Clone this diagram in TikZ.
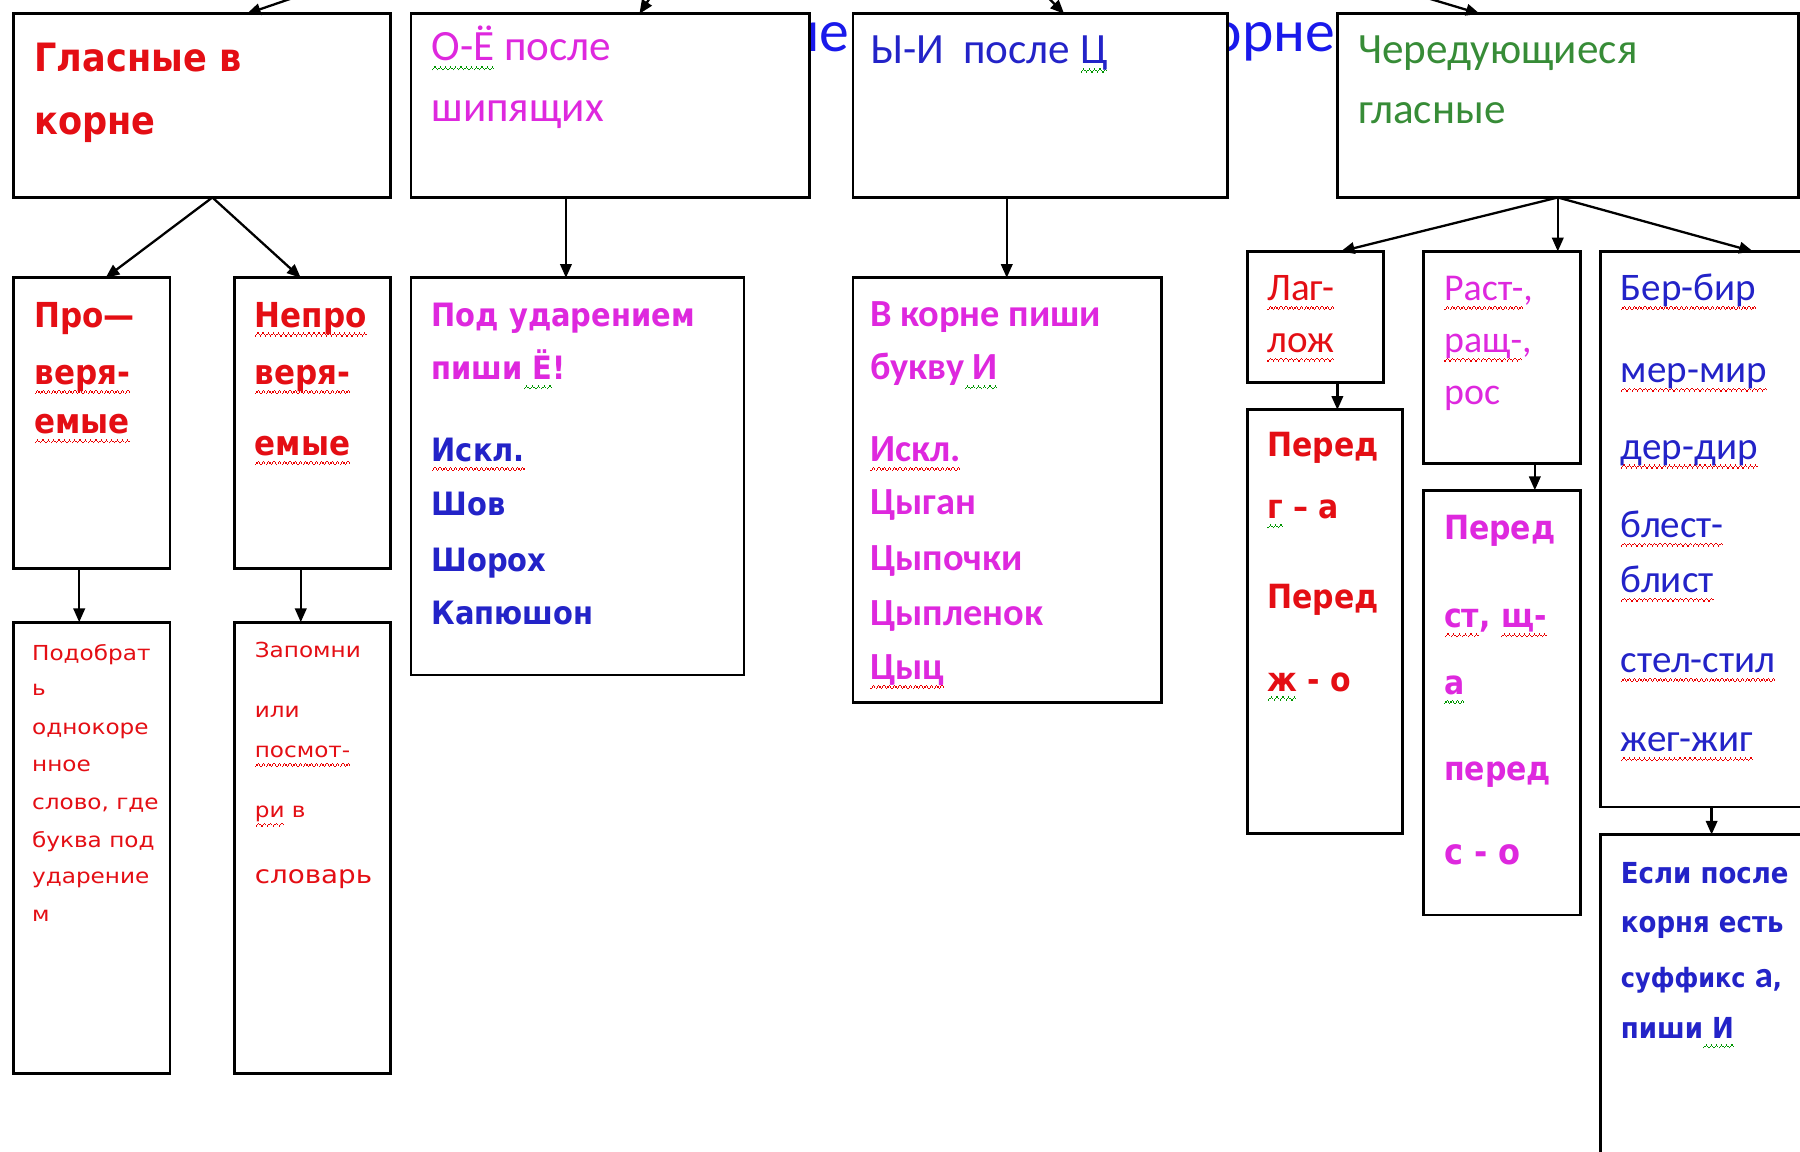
\documentclass[tikz,border=0pt]{standalone}
\usepackage{fontspec}
\usetikzlibrary{arrows.meta,calc}
\newfontfamily\calf{Carlito}
\newfontfamily\tah[FakeStretch=0.9]{DejaVu Sans}
\newfontfamily\smf[FakeStretch=1.12]{DejaVu Sans}
\definecolor{cred}{RGB}{228,14,20}
\definecolor{cmag}{RGB}{222,40,222}
\definecolor{cblue}{RGB}{35,35,200}
\definecolor{ctitle}{RGB}{25,25,235}
\definecolor{cgreen}{RGB}{55,140,55}
\definecolor{sqred}{RGB}{235,0,0}
\definecolor{sqgreen}{RGB}{0,150,0}
\newcommand\fsz[1]{\fontsize{#1pt}{#1pt}\selectfont}
\newsavebox\sqbox
\newcommand\sqpat{\rule[-4.1pt]{0.55pt}{0.6pt}\rule[-3.5pt]{0.55pt}{0.6pt}\rule[-2.9pt]{0.55pt}{0.6pt}\rule[-3.5pt]{0.55pt}{0.6pt}}
\newcommand\sqw[2]{\sbox\sqbox{#2}\rlap{\hbox to \wd\sqbox{\color{#1}\xleaders\hbox{\sqpat}\hfil}}\usebox\sqbox}
\newcommand\sqr[1]{\sqw{sqred}{#1}}
\newcommand\sqg[1]{\sqw{sqgreen}{#1}}
\newcounter{tln}
\newcommand\putl[4]{\stepcounter{tln}\node[#1] (l\arabic{tln}) at (#2,#3) {#4};}
\newcommand\bx[5]{\node[box, minimum width=#4*0.5pt, minimum height=#5*0.5pt] (#1) at (#2,#3) {};}
\tikzset{
  box/.style={draw=black, line width=1.2pt, fill=white, rectangle, anchor=north west, outer sep=0pt, inner sep=0pt},
  txt/.style={anchor=base west, inner sep=0pt, outer sep=0pt},
  ttl/.style={anchor=base east, inner sep=0pt, outer sep=0pt, text=ctitle, font=\calf\fsz{26}},
  tA/.style={txt, text=cred, font=\tah\bfseries\fsz{17}},
  tTop/.style={txt, font=\calf\fsz{18.8}},
  tA1/.style={txt, text=cred, font=\tah\bfseries\fsz{15}},
  tB1/.style={txt, font=\tah\bfseries\fsz{14}},
  tC1/.style={txt, text=cmag, font=\calf\bfseries\fsz{16.7}},
  tD/.style={txt, font=\calf\fsz{17}},
  tDb/.style={txt, font=\tah\bfseries\fsz{14.5}},
  tD3b/.style={txt, text=cblue, font=\tah\bfseries\fsz{12.6}},
  tSm/.style={txt, text=cred, font=\smf\fsz{9}},
  arr/.style={-{Triangle[length=6pt,width=5pt]}, line width=1pt, draw=black},
}
\begin{document}
\begin{tikzpicture}[x=0.5pt,y=-0.5pt]
\useasboundingbox (0,0) rectangle (1568,1003);
\clip (0,0) rectangle (1568,1003);
\fill[white] (0,0) rectangle (1568,1003);
% fragments of the title showing between the boxes
\node[ttl] (title1) at (740,45) {ие};
\node[ttl] (title2) at (1163,45) {орне};
% boxes
\bx{A}{12}{12}{328}{160}
\bx{B}{358}{12}{347}{160}
\bx{C}{743}{12}{326}{160}
\bx{D}{1165}{12}{402}{160}
\bx{A1}{12}{242}{136}{253}
\bx{A2}{204}{242}{136}{253}
\bx{B1}{358}{242}{290}{346}
\bx{C1}{743}{242}{269}{370}
\bx{D1}{1087}{219}{118}{114}
\bx{D2}{1240}{219}{137}{185}
\bx{D3}{1394}{219}{186}{484}
\bx{A1b}{12}{542}{136}{393}
\bx{A2b}{204}{542}{136}{393}
\bx{D1b}{1087}{357}{135}{369}
\bx{D2b}{1240}{427}{137}{370}
\bx{D3b}{1394}{727}{186}{300}
% texts
\putl{tA}{30}{62}{Гласные в}
\putl{tA}{30}{117}{корне}
\putl{tTop,text=cmag}{376}{53}{\sqg{О-Ё} после}
\putl{tTop,text=cmag}{376}{106}{шипящих}
\putl{tTop,text=cblue}{758}{55}{Ы-И\ \ после \sqg{Ц}}
\putl{tTop,text=cgreen}{1183}{55}{Чередующиеся}
\putl{tTop,text=cgreen}{1183}{108}{гласные}
\putl{tA1}{30}{285}{Про—}
\putl{tA1}{30}{335}{\sqr{веря-}}
\putl{tA1}{30}{378}{\sqr{емые}}
\putl{tA1}{222}{285}{\sqr{Непро}}
\putl{tA1}{222}{335}{\sqr{веря-}}
\putl{tA1}{222}{397}{\sqr{емые}}
\putl{tB1,text=cmag}{376}{284}{Под ударением}
\putl{tB1,text=cmag}{376}{331}{пиши\sqg{ Ё}!}
\putl{tB1,text=cblue}{376}{402}{\sqr{Искл.}}
\putl{tB1,text=cblue}{376}{449}{Шов}
\putl{tB1,text=cblue}{376}{498}{Шорох}
\putl{tB1,text=cblue}{376}{544}{Капюшон}
\putl{tC1}{758}{284}{В корне пиши}
\putl{tC1}{758}{331}{букву\sqg{ И}}
\putl{tC1}{758}{402}{\sqr{Искл.}}
\putl{tC1}{758}{448}{Цыган}
\putl{tC1}{758}{497}{Цыпочки}
\putl{tC1}{758}{545}{Цыпленок}
\putl{tC1}{758}{592}{\sqr{Цыц}}
\putl{tD,text=cred}{1104}{262}{\sqr{Лаг-}}
\putl{tD,text=cred}{1104}{307}{\sqr{лож}}
\putl{tDb,text=cred}{1104}{398}{Перед}
\putl{tDb,text=cred}{1104}{452}{\sqg{г} – а}
\putl{tDb,text=cred}{1104}{530}{Перед}
\putl{tDb,text=cred}{1104}{602}{\sqg{ж} - о}
\putl{tD,text=cmag,font=\calf\fsz{16.5}}{1258}{262}{\sqr{Раст-},}
\putl{tD,text=cmag,font=\calf\fsz{16.5}}{1258}{307}{\sqr{ращ-},}
\putl{tD,text=cmag,font=\calf\fsz{16.5}}{1258}{352}{рос}
\putl{tDb,text=cmag}{1258}{470}{Перед}
\putl{tDb,text=cmag}{1258}{547}{\sqr{ст}, \sqr{щ-}}
\putl{tDb,text=cmag}{1258}{605}{\sqg{а}}
\putl{tDb,text=cmag}{1258}{680}{перед}
\putl{tDb,text=cmag,font=\tah\bfseries\fsz{15.5}}{1258}{753}{с - о}
\putl{tD,text=cblue}{1412}{262}{\sqr{Бер-бир}}
\putl{tD,text=cblue}{1412}{333}{\sqr{мер-мир}}
\putl{tD,text=cblue}{1412}{400}{\sqr{дер-дир}}
\putl{tD,text=cblue}{1412}{468}{\sqr{блест-}}
\putl{tD,text=cblue}{1412}{516}{\sqr{блист}}
\putl{tD,text=cblue}{1412}{586}{\sqr{стел-стил}}
\putl{tD,text=cblue}{1412}{655}{\sqr{жег-жиг}}
\putl{tD3b}{1412}{770}{Если после}
\putl{tD3b}{1412}{812}{корня есть}
\putl{tD3b,font=\tah\bfseries\fsz{11.6}}{1412}{860}{суффикс\hspace{4pt}{\calf\bfseries\fsz{16}а},}
\putl{tD3b}{1412}{905}{пиши\sqg{ И}}
\putl{tSm}{28}{575}{Подобрат}
\putl{tSm}{28}{606}{ь}
\putl{tSm}{28}{640}{однокоре}
\putl{tSm}{28}{672}{нное}
\putl{tSm}{28}{705}{слово, где}
\putl{tSm}{28}{738}{буква под}
\putl{tSm}{28}{770}{ударение}
\putl{tSm}{28}{803}{м}
\putl{tSm}{222}{573}{Запомни}
\putl{tSm}{222}{625}{или}
\putl{tSm}{222}{660}{\sqr{посмот-}}
\putl{tSm}{222}{712}{\sqr{ри} в}
\putl{tSm,font=\smf\fsz{10.8}}{222}{770}{словарь}
% incoming arrows from above
\coordinate (inA) at (285,-12);
\coordinate (inB) at (573,-12);
\coordinate (inC) at (903,-12);
\coordinate (inD) at (1209,-12);
\draw[arr] (inA) -- ($(A.north west)+(203,0)$);
\draw[arr] (inB) -- ($(B.north west)+(199,0)$);
\draw[arr] (inC) -- ($(C.north west)+(184,0)$);
\draw[arr] (inD) -- ($(D.north west)+(124,0)$);
% connectors
\draw[arr] ($(A.south west)+(173,0)$) -- ($(A1.north west)+(80,0)$);
\draw[arr] ($(A.south west)+(173,0)$) -- ($(A2.north west)+(58,0)$);
\draw[arr] ($(B.south west)+(135,0)$) -- ($(B1.north west)+(135,0)$);
\draw[arr] ($(C.south west)+(134,0)$) -- ($(C1.north west)+(134,0)$);
\draw[arr] ($(D.south west)+(192,0)$) -- ($(D1.north west)+(81,0)$);
\draw[arr] ($(D.south west)+(192,0)$) -- ($(D2.north west)+(117,0)$);
\draw[arr] ($(D.south west)+(192,0)$) -- ($(D3.north west)+(133,0)$);
\draw[arr] ($(A1.south west)+(57,0)$) -- ($(A1b.north west)+(57,0)$);
\draw[arr] ($(A2.south west)+(58,0)$) -- ($(A2b.north west)+(58,0)$);
\draw[arr] ($(D1.south west)+(78,0)$) -- ($(D1b.north west)+(78,0)$);
\draw[arr] ($(D2.south west)+(97,0)$) -- ($(D2b.north west)+(97,0)$);
\draw[arr] ($(D3.south west)+(97,0)$) -- ($(D3b.north west)+(97,0)$);
\end{tikzpicture}
\end{document}
